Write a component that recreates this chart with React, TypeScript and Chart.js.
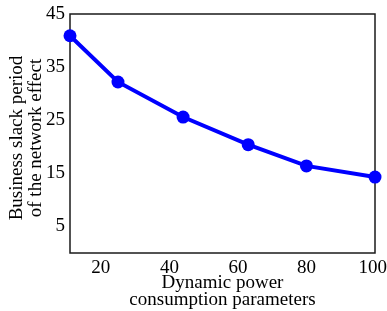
import React, { useEffect, useRef } from "react";
import { Chart, registerables } from "chart.js";

Chart.register(...registerables);

const xValues = [11, 25, 44, 63, 80, 100];
const yValues = [40.9, 32.2, 25.6, 20.4, 16.4, 14.3];
const xTicks = [20, 40, 60, 80, 100];
const yTicks = [5, 15, 25, 35, 45];
const xTitle = ["Dynamic power", "consumption parameters"];
const yTitle = ["Business slack period", "of the network effect"];

const FONT = "Liberation Serif";

const boxPlugin = {
  id: "boxPlugin",
  beforeDatasetsDraw(chart: any) {
    const { ctx, chartArea } = chart;
    ctx.save();
    ctx.strokeStyle = "#1a1a1a";
    ctx.lineWidth = 1.5;
    ctx.strokeRect(chartArea.left, chartArea.top, chartArea.right - chartArea.left, chartArea.bottom - chartArea.top);
    ctx.restore();
  },
  afterDraw(chart: any) {
    const { ctx } = chart;
    ctx.save();
    ctx.fillStyle = "#000";
    ctx.font = `19px "${FONT}"`;
    ctx.textAlign = "center";
    ctx.textBaseline = "alphabetic";
    const baselines = [22, 41];
    yTitle.forEach((t, i) => {
      ctx.save();
      ctx.translate(baselines[i], 138);
      ctx.rotate(-Math.PI / 2);
      ctx.fillText(t, 0, 0);
      ctx.restore();
    });
    ctx.restore();
  },
};

export default function App() {
  const ref = useRef<HTMLCanvasElement>(null);
  useEffect(() => {
    if (!ref.current) return;
    const chart = new Chart(ref.current, {
      type: "line",
      data: {
        datasets: [
          {
            data: xValues.map((x, i) => ({ x, y: yValues[i] })),
            borderColor: "#0000ff",
            backgroundColor: "#0000ff",
            borderWidth: 4,
            pointRadius: 6.5,
            pointBorderWidth: 0,
            pointBackgroundColor: "#0000ff",
            tension: 0,
            clip: false as any,
          },
        ],
      },
      options: {
        animation: false,
        responsive: false,
        layout: { padding: { left: 0, top: 14, right: 12, bottom: 0 } },
        plugins: { legend: { display: false }, tooltip: { enabled: false } },
        scales: {
          x: {
            type: "linear",
            min: 11,
            max: 100,
            afterBuildTicks: (s: any) => {
              s.ticks = xTicks.map((v) => ({ value: v }));
            },
            afterFit: (s: any) => {
              s.height = 58;
              s.paddingLeft = 0;
              s.paddingRight = 0;
            },
            grid: { display: false, drawTicks: false },
            border: { display: false },
            ticks: {
              color: "#000",
              font: { family: FONT, size: 19 },
              padding: 4,
              maxRotation: 0,
              autoSkip: false,
              callback: (v: any) => (v === 100 ? "100 " : String(v)),
            },
            title: {
              display: true,
              text: xTitle,
              color: "#000",
              font: { family: FONT, size: 19, lineHeight: 17 / 19 },
              padding: { top: 0, bottom: 2.5 },
            },
          },
          y: {
            type: "linear",
            min: 0,
            max: 45,
            afterBuildTicks: (s: any) => {
              s.ticks = yTicks.map((v) => ({ value: v }));
            },
            afterFit: (s: any) => {
              s.width = 70;
              s.paddingTop = 0;
              s.paddingBottom = 0;
            },
            grid: { display: false, drawTicks: false },
            border: { display: false },
            ticks: {
              color: "#000",
              font: { family: FONT, size: 19 },
              padding: 5,
              autoSkip: false,
            },
          },
        },
      },
      plugins: [boxPlugin],
    });
    return () => chart.destroy();
  }, []);
  return (
    <div style={{ position: "fixed", left: 0, top: 0, width: 387, height: 311, background: "#fff" }}>
      <canvas ref={ref} width={387} height={311} style={{ display: "block" }} />
    </div>
  );
}
